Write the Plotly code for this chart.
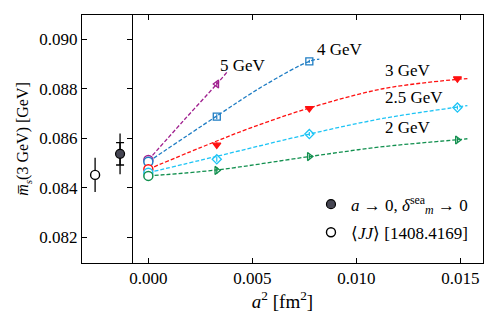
import plotly.graph_objects as go

# lattice spacings a^2 [fm^2]
a2 = [0.00329, 0.00774, 0.01486]

# data points per renormalisation scale (mu)
labels = ['5 GeV', '4 GeV', '3 GeV', '2.5 GeV', '2 GeV']
colors = ['#a0208f', '#1f7dc4', '#ff1010', '#1ec4f5', '#12904f']
symbols = ['triangle-left-open', 'square-open', 'triangle-down', 'diamond-open', 'triangle-right-open']
pts_x = [a2[:1], a2[:2], a2, a2, a2]
pts_y = [
    [0.08819],
    [0.08687, 0.08911],
    [0.08573, 0.08721, 0.08841],
    [0.08515, 0.08617, 0.08724],
    [0.08470, 0.08526, 0.08593],
]
pts_err = [
    [0.00012],
    [0.00010, 0.00006],
    [0.00010, 0.00008, 0.00006],
    [0.00010, 0.00008, 0.00008],
    [0.00014, 0.00008, 0.00012],
]

# continuum values (a^2 = 0)
cont_y = [0.08512, 0.08505, 0.08475, 0.08461, 0.08448]
cont_err = [0.00014, 0.00012, 0.00010, 0.00010, 0.00012]

# fit curves
fit_x = [
    [0.0, 0.00170, 0.00329, 0.00377],
    [0.0, 0.00329, 0.00560, 0.00774, 0.00822],
    [0.0, 0.00250, 0.00489, 0.00774, 0.01128, 0.01486, 0.01534],
    [0.0, 0.00329, 0.00774, 0.01128, 0.01486, 0.01534],
    [0.0, 0.00329, 0.00774, 0.01128, 0.01486, 0.01534],
]
fit_y = [
    [0.08512, 0.08672, 0.08819, 0.08866],
    [0.08505, 0.08690, 0.08815, 0.08911, 0.08920],
    [0.08475, 0.08562, 0.08641, 0.08722, 0.08800, 0.08838, 0.08841],
    [0.08461, 0.08527, 0.08617, 0.08680, 0.08726, 0.08732],
    [0.08448, 0.08472, 0.08526, 0.08566, 0.08594, 0.08598],
]

# final results
final_x = [-0.00136]
final_y = [0.08537]
final_err_in = [0.00045]
final_err_out = [0.00082]
jj_x = [-0.00256]
jj_y = [0.08452]
jj_err = [0.00069]

font = 'Liberation Serif'
fig = go.Figure()

for i, lab in enumerate(labels):
    fig.add_trace(go.Scatter(x=fit_x[i], y=fit_y[i], mode='lines', line_shape='spline',
                             line=dict(color=colors[i], width=1.3, dash='4px,2px'), showlegend=False))
    fig.add_trace(go.Scatter(x=pts_x[i], y=pts_y[i], mode='markers',
                             marker=dict(symbol=symbols[i], size=7, color=colors[i], line=dict(width=1.3, color=colors[i])),
                             error_y=dict(array=pts_err[i], color=colors[i], thickness=1.2, width=0),
                             showlegend=False))
    fig.add_trace(go.Scatter(x=[0.0], y=[cont_y[i]], mode='markers',
                             marker=dict(symbol='circle', size=9, color='white', line=dict(width=1.5, color=colors[i])),
                             error_y=dict(array=[cont_err[i]], color=colors[i], thickness=1.2, width=0),
                             showlegend=False))

fig.add_trace(go.Scatter(x=final_x, y=final_y, mode='markers', marker=dict(size=1, color='black'),
                         error_y=dict(array=final_err_out, color='black', thickness=1.3, width=0), showlegend=False))
fig.add_trace(go.Scatter(x=final_x, y=final_y, mode='markers', legendgroup='a',
                         marker=dict(size=9, color='#454552', line=dict(width=1.2, color='black')),
                         error_y=dict(array=final_err_in, color='black', thickness=1.3, width=4),
                         name='<i>a</i> → 0, <i>δ</i><sup>sea</sup><sub><i>m</i></sub> → 0'))
fig.add_trace(go.Scatter(x=jj_x, y=jj_y, mode='markers', legendgroup='b',
                         marker=dict(size=9, color='white', line=dict(width=1.4, color='black')),
                         error_y=dict(array=jj_err, color='black', thickness=1.3, width=0),
                         name='⟨<i>JJ</i>⟩ [1408.4169]'))

# labels on the curves
lab_x = [0.00336, 0.00800, 0.01128, 0.01128, 0.01128]
lab_y = [0.08896, 0.08957, 0.08872, 0.08763, 0.08642]
for i, lab in enumerate(labels):
    fig.add_annotation(x=lab_x[i], y=lab_y[i], text=lab, showarrow=False, xanchor='left', yanchor='middle',
                       font=dict(family=font, size=17, color='black'))

# the page body has an 8px margin, so the figure is 8px smaller and shifted
fig.update_layout(
    width=490, height=314,
    margin=dict(l=74, r=15, t=7, b=59),
    plot_bgcolor='white', paper_bgcolor='white',
    font=dict(family=font, size=17, color='black'),
    legend=dict(x=0.975, y=0.05, xanchor='right', yanchor='bottom', bgcolor='rgba(0,0,0,0)',
                font=dict(family=font, size=17), itemwidth=30, tracegroupgap=3),
    xaxis=dict(range=[-0.00319, 0.01609], tickvals=[0.0, 0.005, 0.010, 0.015],
               ticktext=['0.000', '0.005', '0.010', '0.015'], automargin=False,
               tickfont=dict(family=font, size=17),
               ticks='inside', ticklen=5, tickcolor='black', showline=True, linecolor='black', linewidth=1,
               mirror='ticks', showgrid=False, zeroline=False,
               title=dict(text='<i>a</i><sup>2</sup> [fm<sup>2</sup>]', standoff=3, font=dict(family=font, size=19))),
    yaxis=dict(range=[0.08096, 0.09098], tickvals=[0.082, 0.084, 0.086, 0.088, 0.090],
               ticktext=['0.082', '0.084', '0.086', '0.088', '0.090'], automargin=False,
               tickfont=dict(family=font, size=17),
               ticks='inside', ticklen=5, tickcolor='black', showline=True, linecolor='black', linewidth=1,
               mirror=True, showgrid=False, zeroline=False,
               title=dict(text='<i>m̅</i><sub><i>s</i></sub>(3 GeV) [GeV]', standoff=6, font=dict(family=font, size=16))),
    yaxis2=dict(overlaying='y', matches='y', anchor='free', position=0.1247, side='left', automargin=False,
                tickvals=[0.082, 0.084, 0.086, 0.088, 0.090], showticklabels=False,
                ticks='outside', ticklen=5, tickcolor='black', showline=True, linecolor='black', linewidth=1,
                showgrid=False, zeroline=False),
)
# dummy trace to show the second y axis
fig.add_trace(go.Scatter(x=[None], y=[None], yaxis='y2', showlegend=False))

fig.write_html('out.html')
